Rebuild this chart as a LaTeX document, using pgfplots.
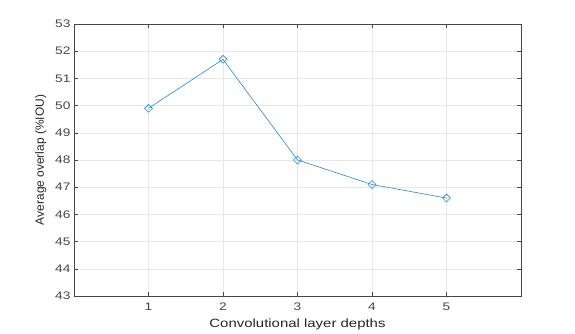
\documentclass[border=0pt]{standalone}
\usepackage{pgfplots}
\pgfplotsset{compat=1.18}
\usepackage{fontspec}
\setmainfont{Liberation Sans}
\newfontfamily\wide[FakeStretch=1.25]{Liberation Sans}
\definecolor{mblue}{RGB}{40,135,205}
\definecolor{axgray}{RGB}{70,70,70}
\begin{document}
\begin{tikzpicture}
\path (0,0) rectangle (575bp,333bp);
\begin{axis}[
  at={(74bp,37bp)}, anchor=south west,
  scale only axis, width=447bp, height=272bp,
  xmin=0, xmax=6, ymin=43, ymax=53,
  xtick={1,2,3,4,5}, ytick={43,44,...,53},
  tick align=inside, major tick length=4bp,
  axis line style={axgray, line width=0.6pt},
  tick style={axgray, line width=0.5pt},
  grid=major, grid style={gray!18, line width=0.5pt},
  tick label style={font=\wide\fontsize{11}{13}\selectfont, text=axgray},
  xticklabel style={yshift=-3bp},
  /pgf/number format/assume math mode=true,
  xlabel={Convolutional layer depths},
  ylabel={Average overlap (\%IOU)},
  xlabel style={font=\wide\fontsize{12}{14}\selectfont, text=black!85, yshift=-2bp},
  ylabel style={font=\fontsize{12}{14}\selectfont, text=black!85, yshift=2bp},
]
\addplot[mblue, line width=0.6pt, mark=square, mark size=2.8bp,
  mark options={rotate=45, line width=0.6pt}] coordinates {
  (1,49.9) (2,51.7) (3,48.0) (4,47.1) (5,46.6)
};
\end{axis}
\end{tikzpicture}
\end{document}
